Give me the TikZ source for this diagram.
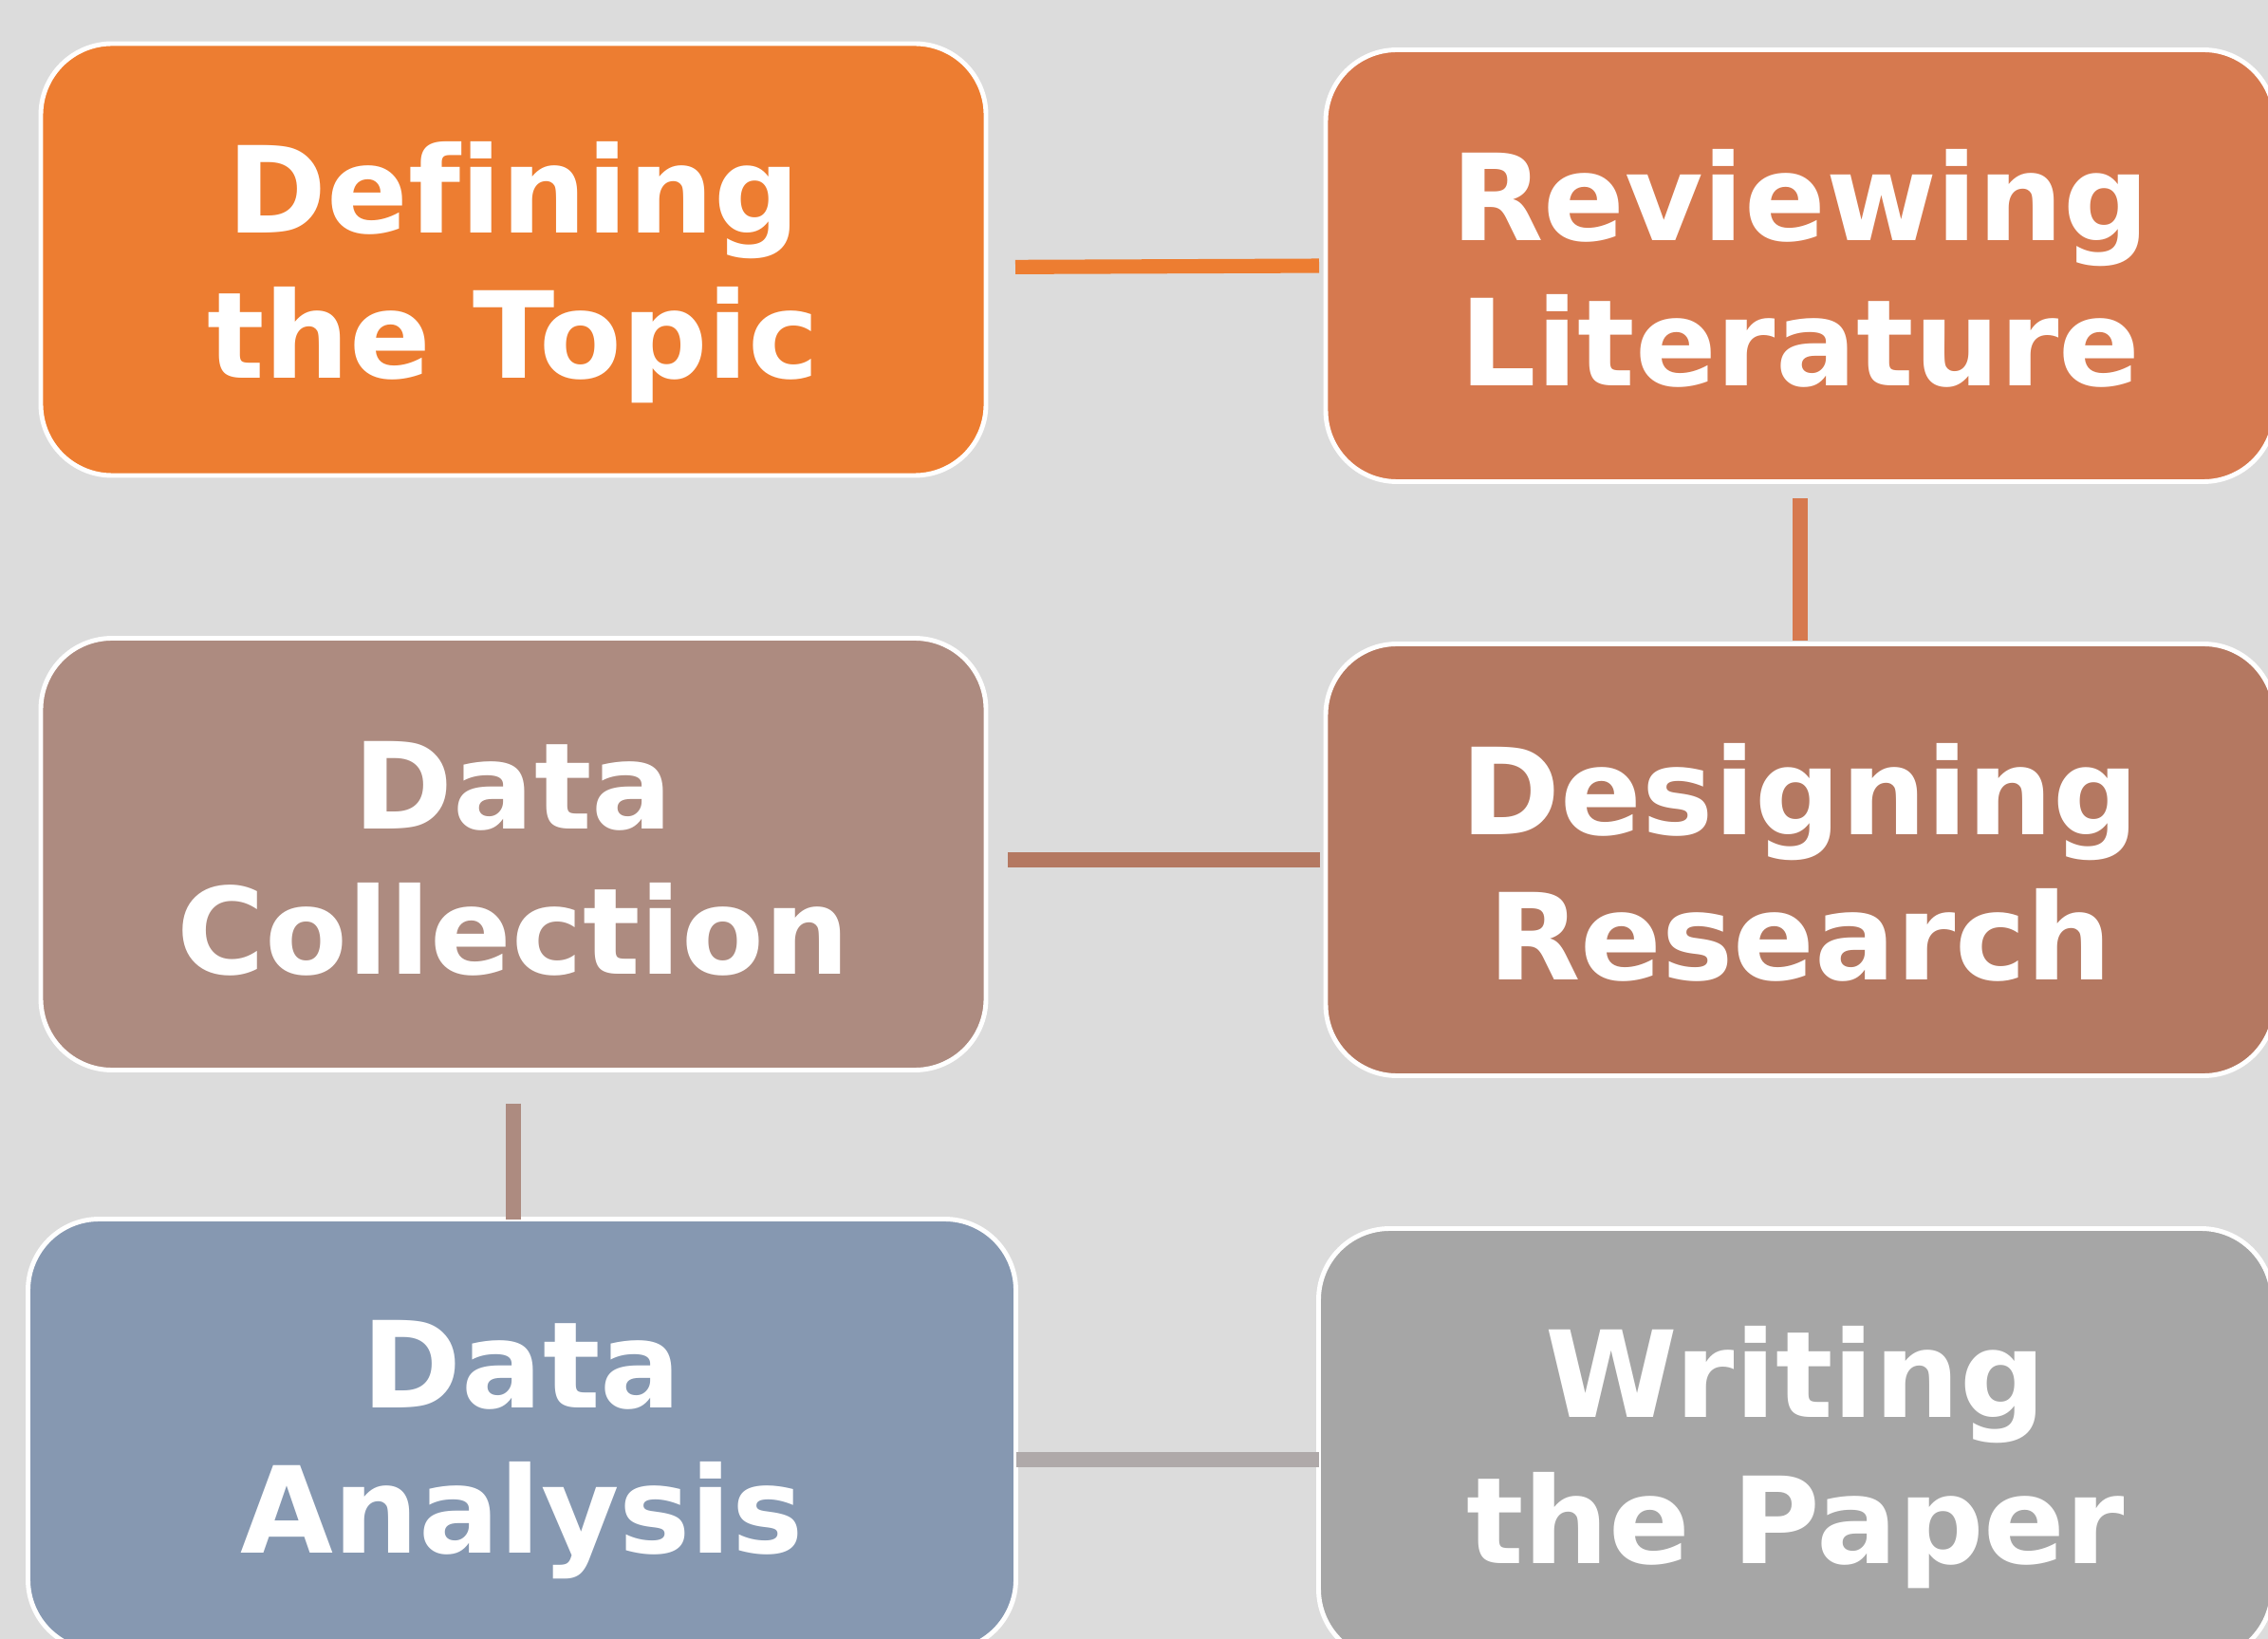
\documentclass[tikz,border=0pt]{standalone}
\definecolor{background}{RGB}{220, 220, 220}
\definecolor{topicfill}{RGB}{237, 125, 49}
\definecolor{reviewfill}{RGB}{214, 121, 79}
\definecolor{designfill}{RGB}{180, 120, 97}
\definecolor{collectfill}{RGB}{173, 139, 128}
\definecolor{analysisfill}{RGB}{134, 152, 177}
\definecolor{paperfill}{RGB}{166, 166, 166}
\definecolor{paperlink}{RGB}{175, 169, 169}
\usepackage{fontspec}
\setmainfont[Ligatures=NoCommon]{DejaVu Sans}
\usepackage{tikz}
\usetikzlibrary{calc,positioning}
\newcommand{\stagestrut}{\rule[-6.5pt]{0pt}{41.5pt}}
\tikzset{
	every picture/.style={line join=miter},
}

\begin{document}
\begin{tikzpicture}[
		stage/.style={rectangle,rounded corners=0.75cm,draw=white,line width=1.4pt,
			fill=#1,text=white,align=center,outer sep=0pt,inner sep=0pt,
			minimum width=9.96cm,minimum height=4.55cm,
			font=\fontsize{36}{43.7}\selectfont\bfseries},
		link/.style={draw=#1,line width=4.3pt}]
		\fill[background] (0,0) rectangle (23.9,-17.27);
		\useasboundingbox (0,0) rectangle (23.9,-17.27);
		% the six stages
		\node[stage=topicfill] (topic) at (5.41,-2.735) {\stagestrut Defining\\\stagestrut the Topic};
		\node[stage=reviewfill,minimum width=10cm] (review) at (18.97,-2.80) {\stagestrut Reviewing\\\stagestrut Literature};
		\node[stage=designfill,minimum width=10cm] (design) at (18.97,-9.06) {\stagestrut Designing\\\stagestrut Research};
		\node[stage=collectfill] (collect) at (5.41,-9.00) {\stagestrut Data\\\stagestrut Collection};
		\node[stage=analysisfill,minimum width=10.41cm] (analysis) at (5.50,-15.12) {\stagestrut Data\\\stagestrut Analysis};
		\node[stage=paperfill,minimum width=10.05cm] (paper) at (18.92,-15.22) {\stagestrut Writing\\\stagestrut the Paper};
		% links
		\draw[link=topicfill,shorten <=0.31cm,shorten >=0.07cm] ([yshift=-0.08cm]topic.east) -- (review.west);
		\draw[link=reviewfill,shorten <=0.18cm,shorten >=0.03cm] (review.south) -- (design.north);
		\draw[link=designfill,shorten <=0.06cm,shorten >=0.23cm] (design.west) -- (design.west -| collect.east);
		\draw[link=collectfill,shorten <=0.35cm] (collect.south) -- (collect.south |- analysis.north);
		\draw[link=paperlink] ([yshift=-0.26cm]analysis.east) -- ([yshift=-0.26cm]analysis.east -| paper.west);
	\end{tikzpicture}
\end{document}
